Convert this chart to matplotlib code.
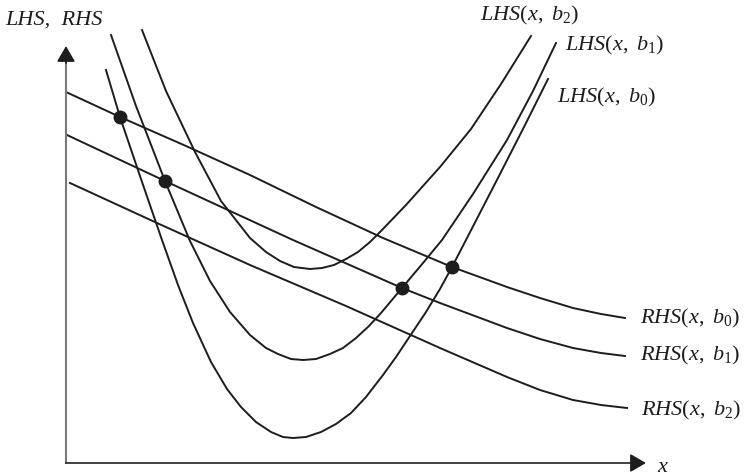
import matplotlib
matplotlib.use("Agg")
import matplotlib.pyplot as plt

plt.rcParams['mathtext.fontset'] = 'custom'
plt.rcParams['mathtext.rm'] = 'Liberation Serif'
plt.rcParams['mathtext.it'] = 'Liberation Serif:italic'

# LHS curves (x, y) for b0, b1, b2
lhs_b0_x = [40, 54, 75, 96, 112, 127, 145, 161, 175, 190, 205, 217, 227,
            240, 255, 270, 285, 300, 317, 330, 344, 360, 374, 386, 401, 417, 434, 458, 482]
lhs_b0_y = [393, 346, 284, 223, 178, 140, 101, 74, 56, 41, 31, 26, 25,
            26, 31, 39, 50, 66, 88, 106, 127, 151, 174, 196, 225, 256, 289, 336, 384]

lhs_b1_x = [45, 70, 99, 124, 144, 164, 184, 200, 212, 225, 237,
            250, 264, 277, 290, 303, 315, 336, 357, 376, 407, 441, 467, 490]
lhs_b1_y = [428, 357, 282, 222, 182, 151, 128, 115, 109, 104, 103,
            104, 109, 115, 125, 137, 150, 175, 200, 223, 269, 323, 372, 420]

lhs_b2_x = [76, 100, 129, 155, 184, 200, 214, 228, 244,
            256, 268, 280, 292, 304, 316, 340, 374, 405, 435, 465]
lhs_b2_y = [433, 372, 311, 262, 225, 211, 202, 196, 194,
            195, 198, 204, 211, 221, 233, 258, 296, 334, 379, 427]

# RHS curves
rhs_b0_x = [0, 54, 120, 184, 250, 317, 386, 441, 474, 507, 535, 559]
rhs_b0_y = [371, 346, 317, 288, 256, 225, 196, 176, 165, 155, 149, 145]

rhs_b1_x = [1, 99, 227, 336, 374, 441, 474, 507, 535, 559]
rhs_b1_y = [328, 282, 223, 175, 160, 135, 124, 115, 110, 107]

rhs_b2_x = [4, 91, 184, 280, 374, 441, 474, 507, 535, 561]
rhs_b2_y = [280, 240, 198, 157, 115, 86, 73, 63, 58, 55]

# equilibrium points
eq_x = [54, 99, 336, 386]
eq_y = [346, 282, 175, 196]

lhs_labels = [r'$LHS(x,\ b_2)$', r'$LHS(x,\ b_1)$', r'$LHS(x,\ b_0)$']
rhs_labels = [r'$RHS(x,\ b_0)$', r'$RHS(x,\ b_1)$', r'$RHS(x,\ b_2)$']

fig = plt.figure(figsize=(7.46, 4.75), dpi=100)
ax = fig.add_axes([0, 0, 1, 1])
ax.set_xlim(-66, 680)
ax.set_ylim(-12, 463)
ax.axis('off')

lw = 1.4
col = '#1e1c1c'
for xs, ys in [(lhs_b0_x, lhs_b0_y), (lhs_b1_x, lhs_b1_y), (lhs_b2_x, lhs_b2_y),
               (rhs_b0_x, rhs_b0_y), (rhs_b1_x, rhs_b1_y), (rhs_b2_x, rhs_b2_y)]:
    ax.plot(xs, ys, color=col, lw=lw, solid_joinstyle='round')

ax.plot(eq_x, eq_y, 'o', color=col, ms=9, zorder=5)

# axes with arrow heads
ax.plot([0, 0], [0, 405], color='#7a7a7a', lw=1.5)
ax.plot([0, 570], [0, 0], color='#333333', lw=1.3)
head = dict(arrowstyle='-|>,head_length=0.95,head_width=0.55', color=col,
            lw=1.3, mutation_scale=10, shrinkA=0, shrinkB=0)
ax.annotate('', xy=(0, 417), xytext=(0, 400), arrowprops=head)
ax.annotate('', xy=(580, 0), xytext=(565, 0), arrowprops=head)

fs = 16
tkw = dict(fontsize=fs, color=col, ha='left', va='center')
ax.text(-61, 443, 'LHS,  RHS', family='Liberation Serif', style='italic', **tkw)
ax.text(591, -3, r'$x$', **tkw)

for lab, (tx, ty) in zip(lhs_labels, [(414, 448), (499, 418), (491, 366)]):
    ax.text(tx, ty, lab, **tkw)
for lab, (tx, ty) in zip(rhs_labels, [(574, 145), (574, 108), (575, 53)]):
    ax.text(tx, ty, lab, **tkw)

fig.savefig('out.png', dpi=100)
